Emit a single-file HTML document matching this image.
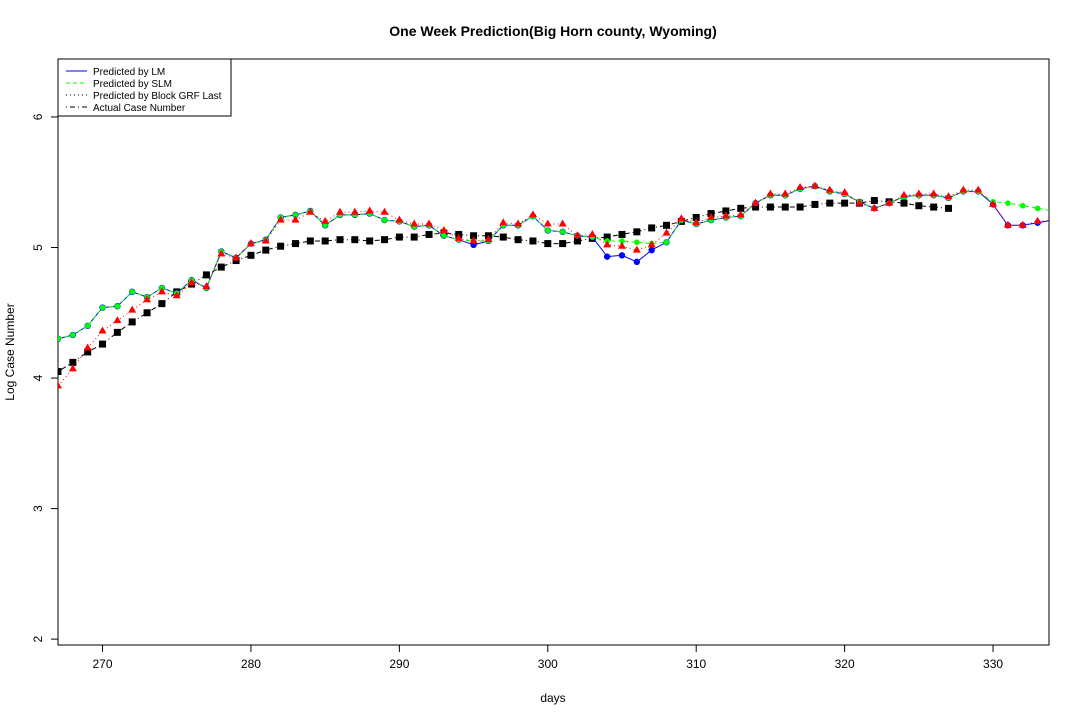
<!DOCTYPE html>
<html><head><meta charset="utf-8"><style>
body{margin:0;background:#fff}
svg{display:block;font-family:"Liberation Sans",Arial,sans-serif}
</style></head><body>
<svg id="c" width="1080" height="720">
<text x="553" y="36" text-anchor="middle" font-size="14" font-weight="bold">One Week Prediction(Big Horn county, Wyoming)</text>
<text x="553" y="702" text-anchor="middle" font-size="12">days</text>
<text transform="translate(14,352) rotate(-90)" text-anchor="middle" font-size="12">Log Case Number</text>
<rect x="58" y="59" width="991" height="586" fill="none" stroke="#000"/>
<g id="axes"></g><g id="marks"></g>
<g>
<rect x="58" y="59" width="173" height="57" fill="#fff" stroke="#000"/>
<line x1="66" y1="71" x2="87" y2="71" stroke="#00f"/>
<line x1="66" y1="83" x2="87" y2="83" stroke="#0f0" stroke-dasharray="4,3"/>
<line x1="66" y1="95" x2="87" y2="95" stroke="#000" stroke-dasharray="1,3"/>
<line x1="66" y1="107" x2="87" y2="107" stroke="#000" stroke-dasharray="1,3,5,3"/>
<text x="93" y="75" font-size="10">Predicted by LM</text>
<text x="93" y="87" font-size="10">Predicted by SLM</text>
<text x="93" y="99" font-size="10">Predicted by Block GRF Last</text>
<text x="93" y="111" font-size="10">Actual Case Number</text>
</g>
</svg>
<script>
const startDay=267;
const xTicks=[270,280,290,300,310,320,330];
const yTicks=[2,3,4,5,6];
const actual=[4.05,4.12,4.20,4.26,4.35,4.43,4.50,4.57,4.66,4.72,4.79,4.85,4.90,4.94,4.98,5.01,5.03,5.05,5.05,5.06,5.06,5.05,5.06,5.08,5.08,5.10,5.11,5.10,5.09,5.09,5.08,5.06,5.05,5.03,5.03,5.05,5.07,5.08,5.10,5.12,5.15,5.17,5.20,5.23,5.26,5.28,5.30,5.31,5.31,5.31,5.31,5.33,5.34,5.34,5.34,5.36,5.35,5.34,5.32,5.31,5.30];
const slm=[4.30,4.33,4.40,4.54,4.55,4.66,4.62,4.69,4.65,4.75,4.69,4.97,4.92,5.03,5.06,5.23,5.25,5.28,5.17,5.25,5.25,5.26,5.21,5.20,5.16,5.17,5.09,5.06,5.05,5.05,5.17,5.17,5.24,5.13,5.12,5.09,5.08,5.05,5.05,5.04,5.03,5.04,5.21,5.18,5.21,5.23,5.24,5.34,5.40,5.40,5.45,5.47,5.43,5.41,5.35,5.30,5.34,5.39,5.40,5.40,5.38,5.43,5.43,5.35,5.34,5.32,5.30,5.28];
const lm=[4.30,4.33,4.40,4.54,4.55,4.66,4.62,4.69,4.65,4.75,4.69,4.97,4.92,5.03,5.06,5.23,5.25,5.28,5.17,5.25,5.25,5.26,5.21,5.20,5.16,5.17,5.09,5.06,5.02,5.05,5.17,5.17,5.24,5.13,5.12,5.09,5.08,4.93,4.94,4.89,4.98,5.04,5.21,5.18,5.21,5.23,5.24,5.34,5.40,5.40,5.45,5.47,5.43,5.41,5.35,5.30,5.34,5.39,5.40,5.40,5.38,5.43,5.43,5.33,5.17,5.17,5.19,5.21];
const grf=[3.94,4.07,4.23,4.36,4.44,4.52,4.60,4.66,4.63,4.73,4.70,4.95,4.92,5.03,5.05,5.21,5.21,5.27,5.20,5.27,5.27,5.28,5.27,5.21,5.18,5.18,5.13,5.07,5.05,5.06,5.19,5.18,5.25,5.18,5.18,5.09,5.10,5.02,5.01,4.98,5.02,5.11,5.22,5.19,5.23,5.24,5.25,5.34,5.41,5.41,5.46,5.47,5.44,5.42,5.34,5.30,5.34,5.40,5.41,5.41,5.39,5.44,5.44,5.33,5.17,5.17,5.20,5.21];
const NS='http://www.w3.org/2000/svg';
const X0=58,X1=1049,Y0=645,Y1=59,xmin=267,xmax=333.77,ymin=1.955,ymax=6.444;
const sx=d=>X0+(d-xmin)/(xmax-xmin)*(X1-X0);
const sy=v=>Y0-(v-ymin)/(ymax-ymin)*(Y0-Y1);
function mk(tag,at,parent){const e=document.createElementNS(NS,tag);for(const k in at)e.setAttribute(k,at[k]);parent.appendChild(e);return e;}
const ax=document.getElementById('axes'),mg=document.getElementById('marks');
xTicks.forEach(t=>{const x=sx(t);
const l=mk('line',{x1:x,y1:645,x2:x,y2:652,stroke:'#000'},ax);


const tx=mk('text',{x:x,y:668,'text-anchor':'middle','font-size':12},ax);tx.textContent=t;

});
yTicks.forEach(t=>{const y=sy(t);
const l=mk('line',{x1:51,y1:y,x2:58,y2:y,stroke:'#000'},ax);


const tx=mk('text',{transform:`translate(42,${y}) rotate(-90)`,'text-anchor':'middle','font-size':12},ax);tx.textContent=t;

});
function series(arr,name,color,dash,shape){
const g=mk('g',{'clip-path':'url(#clip)'},mg);


const pts=arr.map((v,i)=>sx(startDay+i).toFixed(1)+','+sy(v).toFixed(1)).join(' ');
const pl=mk('polyline',{points:pts,fill:'none',stroke:dash.color||color,'stroke-width':1,'stroke-dasharray':dash.d},g);


arr.forEach((v,i)=>{const x=sx(startDay+i),y=sy(v);let p;
if(shape==='sq')p=mk('rect',{x:x-3.5,y:y-3.5,width:7,height:7,fill:color},g);
else if(shape==='tri')p=mk('polygon',{points:`${x},${y-4.5} ${x-4},${y+2.5} ${x+4},${y+2.5}`,fill:color},g);
else p=mk('circle',{cx:x,cy:y,r:shape==='c'?3.2:2.8,fill:color},g);

});}
const cp=mk('clipPath',{id:'clip'},mk('defs',{},document.getElementById('c')));
mk('rect',{x:58,y:59,width:991,height:586},cp);
series(actual,'actual','#000',{d:'1,3,5,3'},'sq');
series(lm,'lm','#00f',{d:''},'c');
series(slm,'slm','#0f0',{d:'4,3'},'c2');
series(grf,'grf','#f00',{d:'1,3'},'tri');
</script>
</body></html>
